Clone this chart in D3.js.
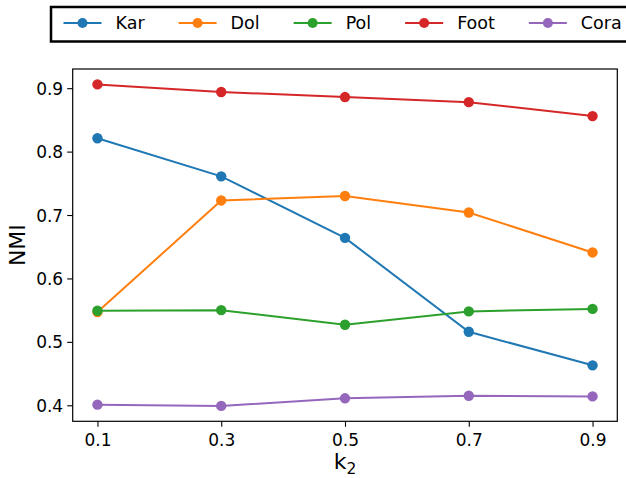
<!DOCTYPE html>
<html><head><meta charset="utf-8">
<script src="https://cdn.jsdelivr.net/npm/d3@7"></script>
<style>body{margin:0;background:#fff;}svg{display:block;font-family:"DejaVu Sans",sans-serif;}</style>
</head><body>
<svg id="c" width="626" height="478"></svg>
<script>
const xValues = [0.1, 0.3, 0.5, 0.7, 0.9];
const xTicks = [0.1, 0.3, 0.5, 0.7, 0.9];
const yTicks = [0.4, 0.5, 0.6, 0.7, 0.8, 0.9];
const seriesNames = ["Kar", "Dol", "Pol", "Foot", "Cora"];
const seriesColors = ["#1f77b4", "#ff7f0e", "#2ca02c", "#d62728", "#9467bd"];
const kar  = [0.821, 0.761, 0.664, 0.516, 0.463];
const dol  = [0.547, 0.723, 0.730, 0.704, 0.641];
const pol  = [0.549, 0.550, 0.527, 0.548, 0.552];
const foot = [0.906, 0.894, 0.886, 0.878, 0.856];
const cora = [0.401, 0.399, 0.411, 0.415, 0.414];
const seriesValues = [kar, dol, pol, foot, cora];

const svg = d3.select("#c");
const L = 72.7, R = 617.3, T = 69, B = 421.3;
const x = d3.scaleLinear().domain([0.06, 0.94]).range([L, R]);
const y = d3.scaleLinear().domain([0.37475, 0.93025]).range([B, T]);

// axes
const xAxis = svg.append("g").attr("transform", `translate(0,${B})`)
  .call(d3.axisBottom(x).tickValues(xTicks).tickFormat(d3.format(".1f")).tickSize(5.5).tickPadding(7));
const yAxis = svg.append("g").attr("transform", `translate(${L},0)`)
  .call(d3.axisLeft(y).tickValues(yTicks).tickFormat(d3.format(".1f")).tickSize(5.5).tickPadding(4));
[xAxis, yAxis].forEach(g => {
  g.select(".domain").remove();
  g.selectAll(".tick line").attr("stroke", "#000").attr("stroke-width", 1.1);
  g.selectAll(".tick text").attr("font-size", 17).attr("fill", "#000").attr("font-family", "DejaVu Sans");
});
yAxis.selectAll(".tick text").attr("dy", "0.36em");

// frame
svg.append("rect").attr("x", L).attr("y", T).attr("width", R - L).attr("height", B - T)
  .attr("fill", "none").attr("stroke", "#000").attr("stroke-width", 1.2);

// series
const line = d3.line().x((d, i) => x(xValues[i])).y(d => y(d));
seriesValues.forEach((vals, si) => {
  const g = svg.append("g");
  g.append("path").datum(vals).attr("d", line).attr("fill", "none")
    .attr("stroke", seriesColors[si]).attr("stroke-width", 2);
  g.selectAll("circle").data(vals).enter().append("circle")
    .attr("cx", (d, i) => x(xValues[i])).attr("cy", d => y(d)).attr("r", 5.2)
    .attr("fill", seriesColors[si]);
});

// axis labels
svg.append("text").attr("x", (L + R) / 2).attr("y", 469).attr("text-anchor", "middle")
  .attr("font-size", 22).attr("fill", "#000")
  .html('k<tspan font-size="15.5" dy="4.5">2</tspan>');
svg.append("text").attr("transform", `translate(25,${(T + B) / 2}) rotate(-90)`)
  .attr("text-anchor", "middle").attr("font-size", 22).attr("fill", "#000").text("NMI");

// legend
const lg = svg.append("g");
lg.append("rect").attr("x", 51).attr("y", 7).attr("width", 620).attr("height", 34.5)
  .attr("fill", "#fff").attr("stroke", "#000").attr("stroke-width", 2.5);
let lx = 63.5;
const ly = 23;
seriesNames.forEach((name, i) => {
  lg.append("line").attr("x1", lx).attr("x2", lx + 38).attr("y1", ly).attr("y2", ly)
    .attr("stroke", seriesColors[i]).attr("stroke-width", 2);
  lg.append("circle").attr("cx", lx + 19).attr("cy", ly).attr("r", 5).attr("fill", seriesColors[i]);
  const t = lg.append("text").attr("x", lx + 52).attr("y", ly + 6.3).attr("font-size", 17.5)
    .attr("fill", "#000").text(name);
  lx = lx + 52 + t.node().getComputedTextLength() + 34;
});
</script>
</body></html>
